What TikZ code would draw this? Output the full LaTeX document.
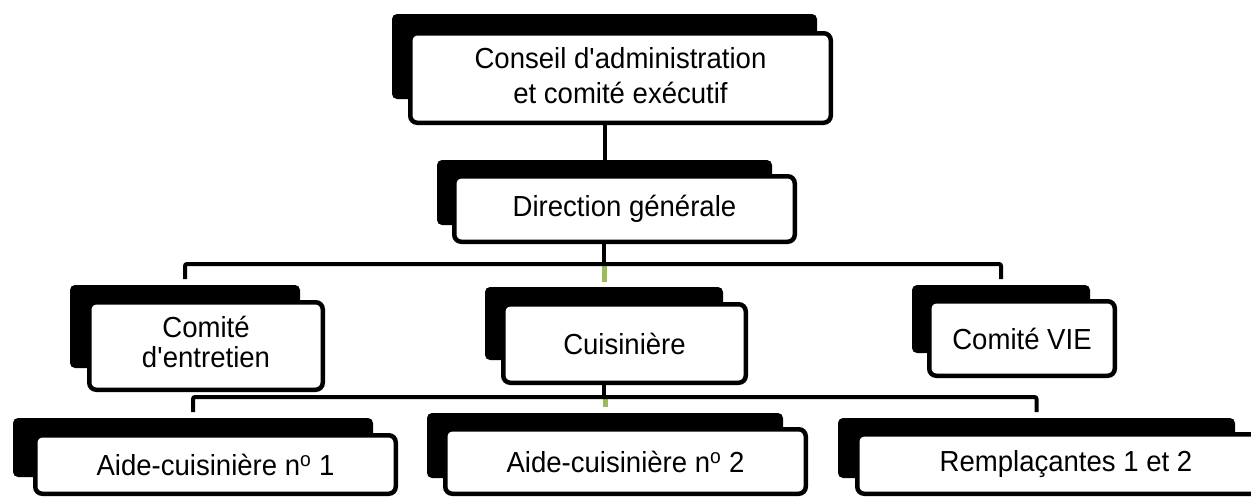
\documentclass[tikz,border=0pt]{standalone}
\usepackage{fontspec}
\setmainfont{Liberation Sans}[FakeStretch=0.95]
\usetikzlibrary{calc}
\definecolor{stubgreen}{RGB}{155,187,89}
\begin{document}
\begin{tikzpicture}[x=1pt,y=-1pt,
  backbox/.style={fill=black, draw=none, rounded corners=5pt, inner sep=0pt, outer sep=0pt},
  frontbox/.style={fill=white, draw=black, line width=4.5pt, rounded corners=7pt, inner sep=0pt, align=center, font=\fontsize{29}{30}\selectfont},
  conn/.style={line width=4pt, draw=black},
  stub/.style={line width=5pt, draw=stubgreen}]
\clip (0,0) rectangle (1251,498);
\fill[white] (0,0) rectangle (1251,498);

% level 1
\node[backbox, minimum width=425pt, minimum height=85pt] (b1) at (604.5,56.5) {};
\node[frontbox, minimum width=420.5pt, minimum height=89.5pt, font=\fontsize{29}{35}\selectfont] (n1) at (620.5,78) {Conseil d\textquotesingle administration\\et comité exécutif\rule[-5pt]{0pt}{0pt}};

% level 2
\node[backbox, minimum width=335pt, minimum height=65pt] (b2) at (604.5,192.5) {};
\node[frontbox, minimum width=340.5pt, minimum height=65.5pt] (n2) at (624.5,209) {Direction générale};

% level 3
\node[backbox, minimum width=230pt, minimum height=83pt] (b3) at (185,326.5) {};
\node[frontbox, minimum width=233.5pt, minimum height=87.5pt, font=\fontsize{29}{30}\selectfont] (n3) at (206,346) {Comité\\d\textquotesingle entretien\rule[-9pt]{0pt}{0pt}};

\node[backbox, minimum width=238pt, minimum height=73pt] (b4) at (604,323.5) {};
\node[frontbox, minimum width=242.5pt, minimum height=78.5pt] (n4) at (624.5,343.5) {Cuisinière};

\node[backbox, minimum width=178pt, minimum height=68pt] (b5) at (1001,319) {};
\node[frontbox, minimum width=185.5pt, minimum height=74.5pt] (n5) at (1022,338.5) {Comité VIE};

% level 4
\node[backbox, minimum width=360pt, minimum height=59pt] (b6) at (193,447.5) {};
\node[frontbox, minimum width=360.5pt, minimum height=58.5pt] (n6) at (215.5,464.5) {Aide-cuisinière n\textsuperscript{o} 1};

\node[backbox, minimum width=356pt, minimum height=65pt] (b7) at (605,445.5) {};
\node[frontbox, minimum width=360.5pt, minimum height=64.5pt] (n7) at (625.5,461.5) {Aide-cuisinière n\textsuperscript{o} 2};

\node[backbox, minimum width=397pt, minimum height=60pt] (b8) at (1036.5,448) {};
\node[frontbox, minimum width=417.5pt, minimum height=59.5pt] (n8) at (1066,464) {Remplaçantes 1 et 2};

% buses
\coordinate (bus2) at (0,264);
\coordinate (bus3) at (0,397);

% connectors
\draw[conn] (b2.north |- n1.south) -- (b2.north);

\draw[stub] ($(b4.north |- bus2)+(0,2)$) -- ($(b4.north)+(0,-5)$);
\draw[conn] (b4.north |- n2.south) -- (b4.north |- bus2);
\draw[conn, rounded corners=2pt] ($(b3.north)+(0,-6)$) -- (b3.north |- bus2) -- (b5.north |- bus2) -- ($(b5.north)+(0,-6)$);

\draw[stub] ($(b7.north |- bus3)+(0,2)$) -- ($(b7.north)+(0,-6)$);
\draw[conn] (b4.north |- n4.south) -- (b4.north |- bus3);
\draw[conn, rounded corners=2pt] ($(b6.north)+(0,-6)$) -- (b6.north |- bus3) -- (b8.north |- bus3) -- ($(b8.north)+(0,-6)$);
\end{tikzpicture}
\end{document}
